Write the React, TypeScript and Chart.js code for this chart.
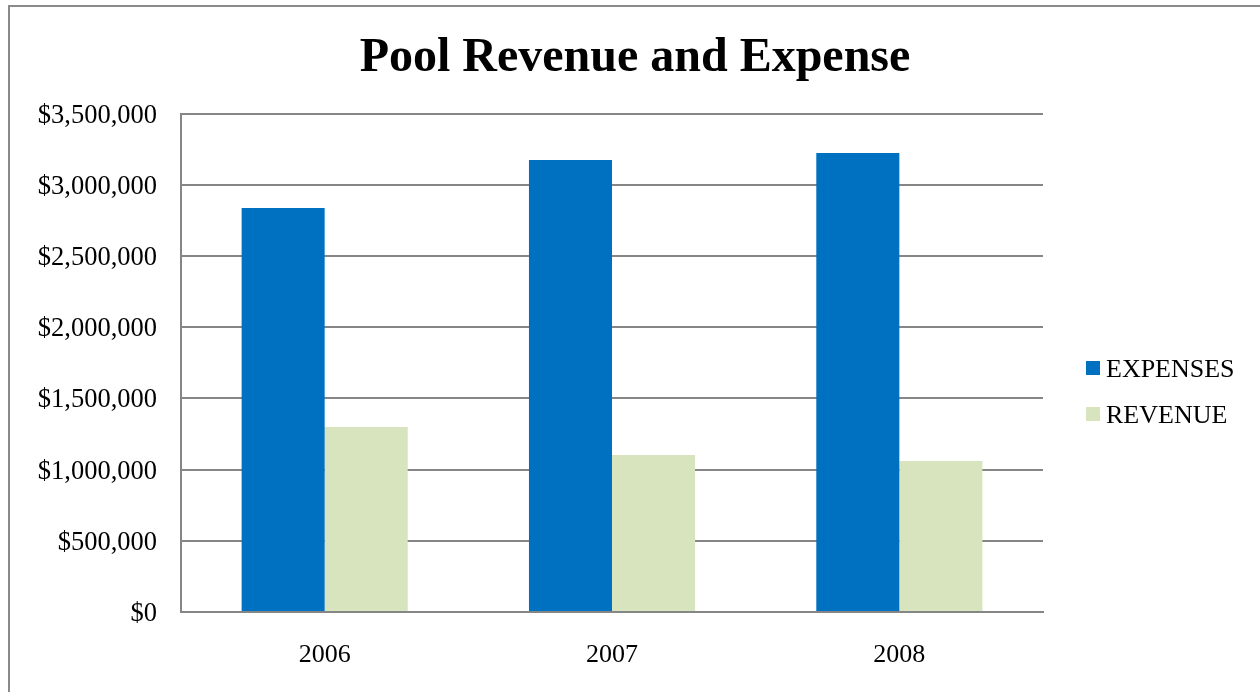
import React, { useEffect, useRef } from "react";
import { Chart, registerables } from "chart.js";

Chart.register(...registerables);

const TITLE = "Pool Revenue and Expense";
const YEARS = ["2006", "2007", "2008"];
const EXPENSES = [2837000, 3174000, 3223000];
const REVENUE = [1299000, 1102000, 1060000];
const SERIES_LABELS = ["EXPENSES", "REVENUE"];
const Y_MIN = 0;
const Y_MAX = 3500000;
const Y_STEP = 500000;

const FONT_FAMILY = "'Liberation Serif', 'Times New Roman', serif";
const GRID_COLOR = "#868686";

const sideLegend = {
  id: "sideLegend",
  afterDraw(chart: any) {
    const { ctx, chartArea } = chart;
    const x = chartArea.right + 43;
    let y = 368;
    ctx.save();
    ctx.font = `26px ${FONT_FAMILY}`;
    ctx.textBaseline = "middle";
    ctx.textAlign = "left";
    chart.data.datasets.forEach((ds: any) => {
      ctx.fillStyle = ds.backgroundColor;
      ctx.fillRect(x, y - 7, 14, 14);
      ctx.fillStyle = "#000000";
      ctx.fillText(ds.label, x + 20, y + 2);
      y += 46;
    });
    ctx.restore();
  },
};

export default function App() {
  const ref = useRef<HTMLCanvasElement | null>(null);

  useEffect(() => {
    if (!ref.current) return;
    const chart = new Chart(ref.current, {
      type: "bar",
      data: {
        labels: YEARS,
        datasets: [
          {
            label: SERIES_LABELS[0],
            data: EXPENSES,
            backgroundColor: "#0070C0",
            categoryPercentage: 0.578,
            barPercentage: 1.0,
          },
          {
            label: SERIES_LABELS[1],
            data: REVENUE,
            backgroundColor: "#D7E4BD",
            categoryPercentage: 0.578,
            barPercentage: 1.0,
          },
        ],
      },
      options: {
        animation: false,
        responsive: false,
        maintainAspectRatio: false,
        layout: { padding: { left: 10, right: 0, top: 0, bottom: 0 } },
        plugins: {
          legend: { display: false },
          tooltip: { enabled: false },
          title: {
            display: true,
            text: TITLE,
            color: "#000000",
            font: { family: FONT_FAMILY, size: 48, weight: "bold", lineHeight: 1.2 },
            padding: { top: 30, bottom: 26 },
          },
        },
        scales: {
          x: {
            grid: { display: false, drawTicks: false },
            border: { display: true, color: GRID_COLOR, width: 2 },
            ticks: {
              color: "#000000",
              font: { family: FONT_FAMILY, size: 26 },
              padding: 28,
            },
            afterFit: (s: any) => {
              s.height = 80;
            },
          },
          y: {
            min: Y_MIN,
            max: Y_MAX,
            grid: { color: GRID_COLOR, lineWidth: 2, drawTicks: false },
            border: { display: true, color: GRID_COLOR, width: 2 },
            ticks: {
              stepSize: Y_STEP,
              color: "#000000",
              font: { family: FONT_FAMILY, size: 26.5 },
              padding: 24,
              labelOffset: 2,
              callback: (v: any) => "$" + Number(v).toLocaleString("en-US"),
            },
            afterFit: (s: any) => {
              s.width = 171;
            },
          },
          legendSpace: {
            type: "linear",
            position: "right",
            display: true,
            grid: { display: false, drawTicks: false },
            border: { display: false },
            ticks: { display: false },
            afterFit: (s: any) => {
              s.width = 217;
            },
          },
        },
      },
      plugins: [sideLegend],
    } as any);
    return () => chart.destroy();
  }, []);

  return (
    <div
      style={{
        position: "fixed",
        left: 0,
        top: 0,
        width: 1260,
        height: 692,
        overflow: "hidden",
        background: "#ffffff",
      }}
    >
      <div
        style={{
          position: "absolute",
          left: 8,
          top: 5,
          width: 1400,
          height: 800,
          border: "2px solid #8a8a8a",
          boxSizing: "border-box",
        }}
      />
      <canvas
        ref={ref}
        width={1260}
        height={692}
        style={{ position: "absolute", left: 0, top: 0, width: 1260, height: 692 }}
      />
    </div>
  );
}
